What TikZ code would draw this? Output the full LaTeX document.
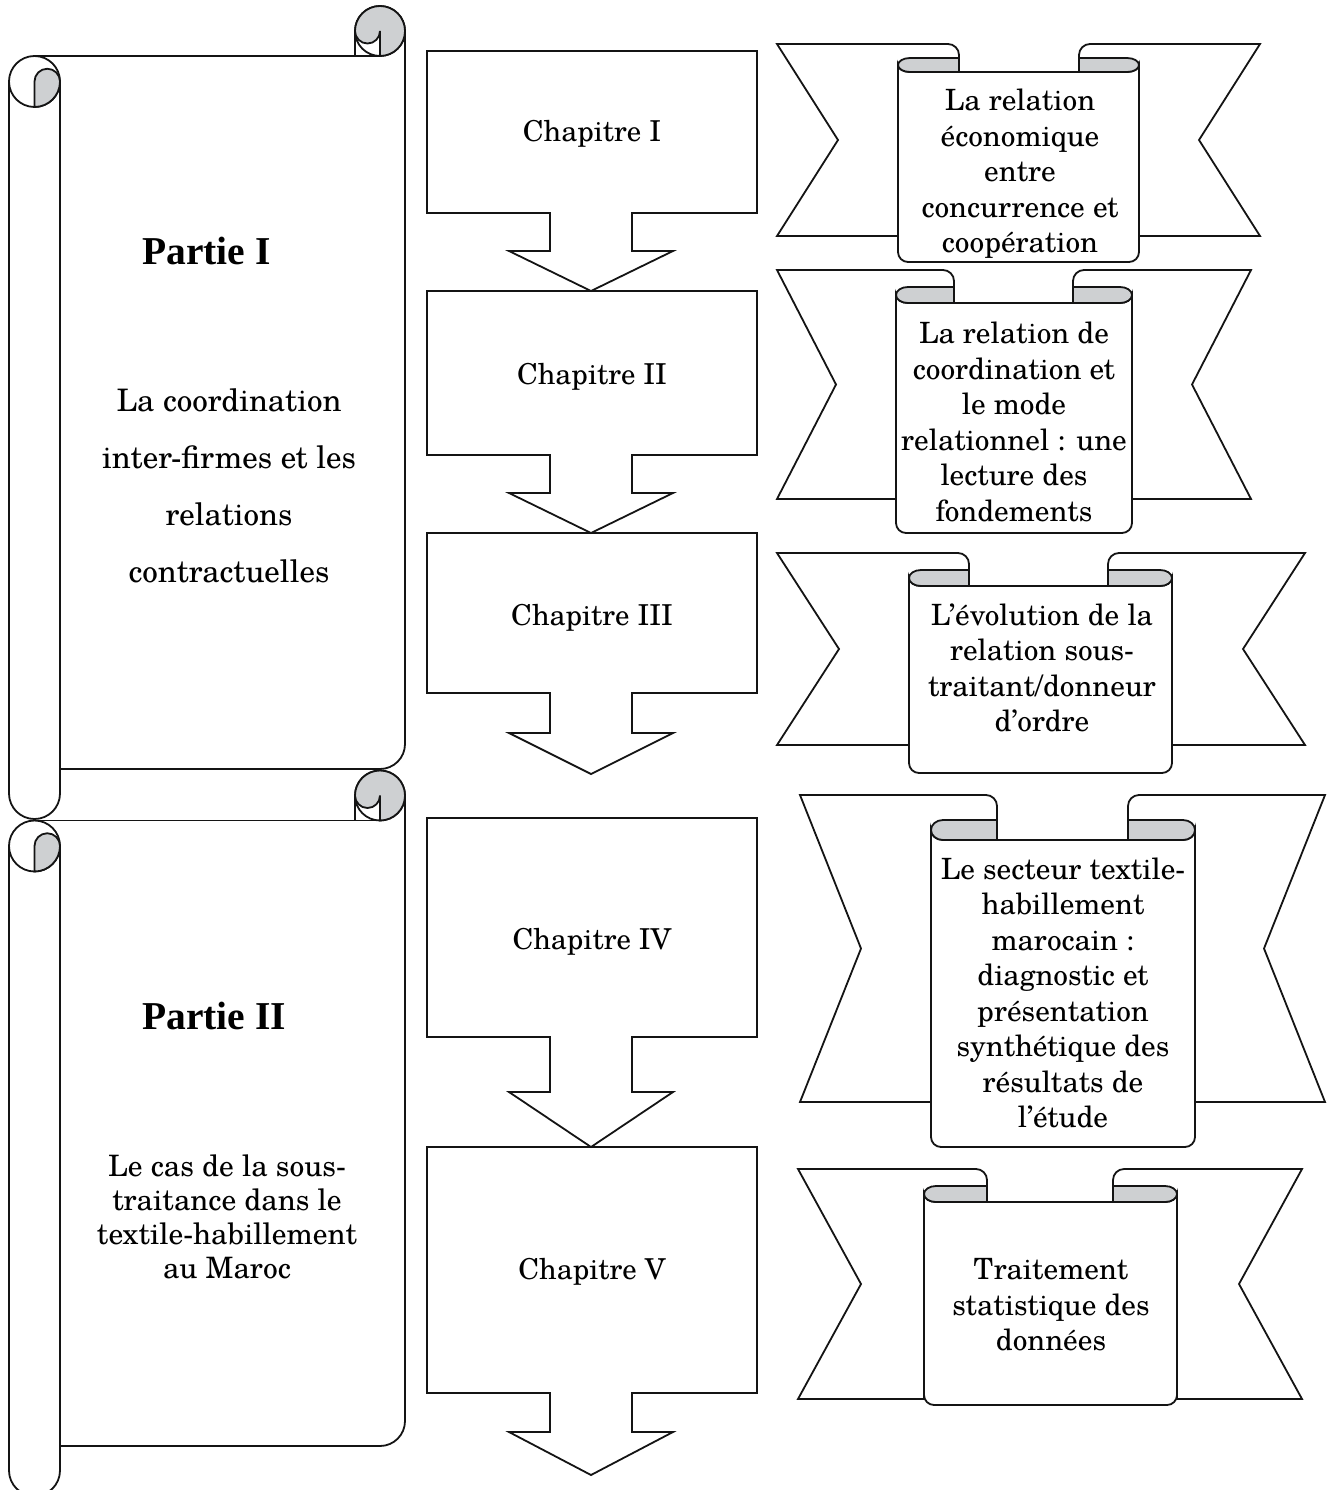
\documentclass[tikz,border=0pt]{standalone}
\usepackage{fontspec}
\setmainfont{TeX Gyre Schola}
\newfontfamily\partfont{Liberation Serif}
\definecolor{curlgray}{RGB}{206,208,210}

\tikzset{
  outline/.style={line width=1.8pt, draw=black!92},
  chaptext/.style={font=\fontsize{28.8}{35.5}\selectfont, align=center, inner sep=0pt},
  ribtext/.style={font=\fontsize{29.3}{35.5}\selectfont, align=center, inner sep=0pt},
  parttext/.style={font=\partfont\bfseries\fontsize{39.5}{42}\selectfont, inner sep=0pt, anchor=west},
  sheettext/.style 2 args={font=\fontsize{#1}{#2}\selectfont, align=center, inner sep=0pt},
}

% rolled sheet on the left: #1 vertical offset, #2 local y of the lower edge
\newcommand\partscroll[2]{%
\begin{scope}[shift={(0,#1)}]
  \draw[outline] (34.5,56) -- (380,56);
  \draw[outline] (405,31) -- (405,{#2-25}) arc[start angle=0,end angle=90,radius=25] -- (60,#2);
  \draw[outline] (60,81.5) -- (60,{#2+24.5}) arc[start angle=0,end angle=180,radius=25.5] -- (9,81.5);
  % upper right roll
  \filldraw[outline, fill=white] (380,31) circle[radius=25];
  \filldraw[outline, fill=curlgray] (380,56) arc[start angle=90,end angle=-180,radius=25]
     arc[start angle=180,end angle=0,radius=12.5] -- cycle;
  \draw[outline] (355,31) -- (355,56);
  % upper left roll
  \draw[outline] (34.5,81.5) circle[radius=25.5];
  \filldraw[outline, fill=curlgray] (34.5,107) -- (34.5,81.5)
     arc[start angle=180,end angle=360,radius=12.75]
     arc[start angle=0,end angle=90,radius=25.5] -- cycle;
\end{scope}}

% block arrow: top, box bottom, stem bottom, tip
\newcommand\chapterarrow[4]{%
  \draw[outline] (427,#1) -- (757,#1) -- (757,#2) -- (632,#2) -- (632,#3) -- (673,#3)
    -- (591,#4) -- (509,#3) -- (550,#3) -- (550,#2) -- (427,#2) -- cycle;}

% ribbon banner with a hanging scroll
\pgfkeys{/rib/.is family, /rib,
  bl/.store in=\ribBL, br/.store in=\ribBR, bt/.store in=\ribBT, bb/.store in=\ribBB,
  nd/.store in=\ribND, sl/.store in=\ribSL, sr/.store in=\ribSR, lt/.store in=\ribLT,
  st/.store in=\ribST, cl/.store in=\ribCL, cr/.store in=\ribCR, sb/.store in=\ribSB}
\newcommand\ribbon[1]{%
  \pgfqkeys{/rib}{#1}%
  \pgfmathsetmacro\ribMid{(\ribBT+\ribBB)/2}%
  \pgfmathsetmacro\ribLM{(\ribLT+\ribST)/2}%
  \pgfmathsetmacro\ribV{(\ribST-\ribLT)/2}%
  % banner ends
  \filldraw[outline, fill=white] (\ribBL,\ribBT) -- ({\ribCL-11},\ribBT)
     arc[start angle=-90,end angle=0,radius=11] -- (\ribCL,\ribST) -- (\ribSL,\ribST)
     -- (\ribSL,\ribBB) -- (\ribBL,\ribBB) -- ({\ribBL+\ribND},\ribMid) -- cycle;
  \filldraw[outline, fill=white] (\ribBR,\ribBT) -- ({\ribCR+11},\ribBT)
     arc[start angle=-90,end angle=-180,radius=11] -- (\ribCR,\ribST) -- (\ribSR,\ribST)
     -- (\ribSR,\ribBB) -- (\ribBR,\ribBB) -- ({\ribBR-\ribND},\ribMid) -- cycle;
  % hanging sheet
  \filldraw[outline, fill=white] (\ribSL,\ribLM) -- (\ribSL,{\ribSB-10})
     arc[start angle=180,end angle=90,radius=10] -- ({\ribSR-10},\ribSB)
     arc[start angle=90,end angle=0,radius=10] -- (\ribSR,\ribLM)
     arc[start angle=0,end angle=90,x radius=12,y radius=\ribV] -- ({\ribSL+12},\ribST)
     arc[start angle=90,end angle=180,x radius=12,y radius=\ribV] -- cycle;
  % rolled lips
  \filldraw[outline, fill=curlgray] (\ribCL,\ribLT) -- ({\ribSL+12},\ribLT)
     arc[start angle=-90,end angle=-270,x radius=12,y radius=\ribV] -- (\ribCL,\ribST) -- cycle;
  \filldraw[outline, fill=curlgray] (\ribCR,\ribLT) -- ({\ribSR-12},\ribLT)
     arc[start angle=-90,end angle=90,x radius=12,y radius=\ribV] -- (\ribCR,\ribST) -- cycle;
}

\begin{document}
\begin{tikzpicture}[x=1pt,y=-1pt]
\useasboundingbox (0,0) rectangle (1327,1490);

% parts
\partscroll{0}{769}
\partscroll{764.5}{681.5}
\node[parttext] (p1) at (142,251) {Partie I};
\node[sheettext={31}{57}] (p1txt) at (229,486) {La coordination\\inter-firmes et les\\relations\\contractuelles};
\node[parttext] (p2) at (142,1016) {Partie II};
\node[sheettext={29.5}{34}] (p2txt) at (227,1217) {Le cas de la sous-\\traitance dans le\\textile-habillement\\au Maroc};

% chapters
\chapterarrow{51}{213}{251}{291}
\chapterarrow{291}{455}{493}{533}
\chapterarrow{533}{693}{733}{774}
\chapterarrow{818}{1037}{1092}{1147}
\chapterarrow{1147}{1393}{1432}{1475}
\node[chaptext] (c1) at (592,134) {Chapitre I};
\node[chaptext] (c2) at (592,377) {Chapitre II};
\node[chaptext] (c3) at (592,618) {Chapitre III};
\node[chaptext] (c4) at (592,942) {Chapitre IV};
\node[chaptext] (c5) at (592,1272) {Chapitre V};

% chapter contents
\ribbon{bl=777, br=1260, bt=44, bb=236, nd=61, sl=898, sr=1139, lt=58, st=72, cl=959, cr=1079, sb=262}
\ribbon{bl=777, br=1251, bt=270, bb=499, nd=59, sl=896, sr=1132, lt=287, st=303, cl=954, cr=1073, sb=533}
\ribbon{bl=777, br=1305, bt=553, bb=745, nd=62, sl=909, sr=1172, lt=570, st=586, cl=969, cr=1108, sb=773}
\ribbon{bl=800, br=1325, bt=795, bb=1102, nd=61, sl=931, sr=1195, lt=820, st=840, cl=997, cr=1128, sb=1147}
\ribbon{bl=798, br=1302, bt=1169, bb=1399, nd=63, sl=924, sr=1177, lt=1186, st=1202, cl=987, cr=1113, sb=1405}

\node[ribtext] (r1) at (1020,174) {La relation\\économique\\entre\\concurrence et\\coopération};
\node[ribtext] (r2) at (1014,422) {La relation de\\coordination et\\le mode\\relationnel : une\\lecture des\\fondements};
\node[ribtext] (r3) at (1042,668) {L’évolution de la\\relation sous-\\traitant/donneur\\d’ordre};
\node[ribtext] (r4) at (1063,993) {Le secteur textile-\\habillement\\marocain :\\diagnostic et\\présentation\\synthétique des\\résultats de\\l’étude};
\node[ribtext] (r5) at (1051,1305) {Traitement\\statistique des\\données};
\end{tikzpicture}
\end{document}
